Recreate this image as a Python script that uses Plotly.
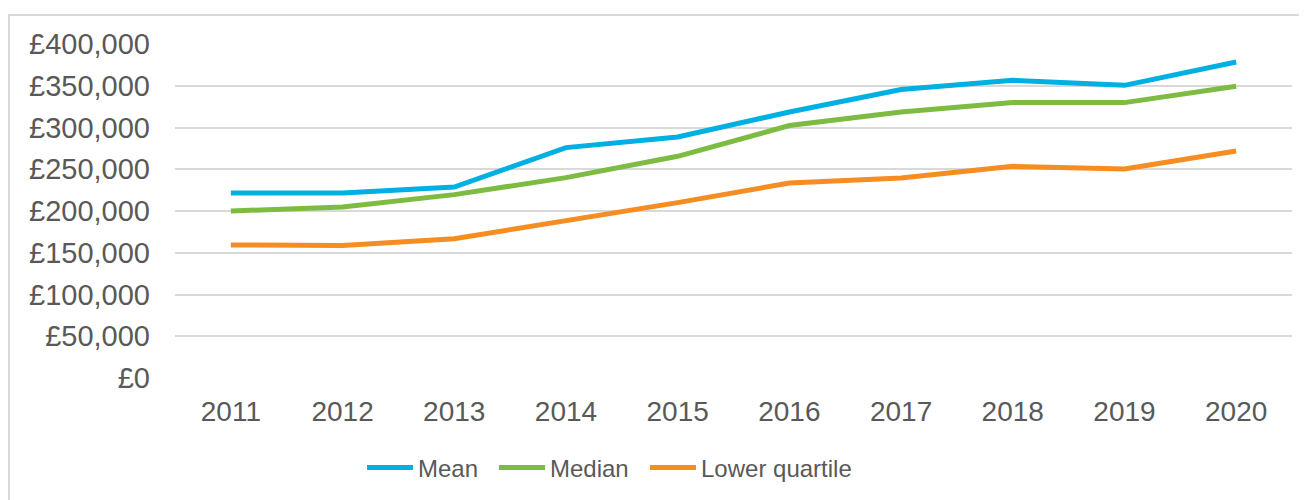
import plotly.graph_objects as go

years = ["2011", "2012", "2013", "2014", "2015", "2016", "2017", "2018", "2019", "2020"]
mean = [221600, 221600, 228700, 275900, 288600, 318600, 345400, 356500, 350500, 378400]
median = [200000, 204800, 219600, 240000, 265500, 302300, 318600, 329800, 329800, 349300]
lower_quartile = [159300, 158600, 166900, 188000, 210000, 233500, 239500, 253500, 250300, 271900]

y_ticks = [0, 50000, 100000, 150000, 200000, 250000, 300000, 350000, 400000]
y_labels = ["£0", "£50,000", "£100,000", "£150,000", "£200,000", "£250,000", "£300,000", "£350,000", "£400,000"]

series = [
    ("Mean", mean, "#00B0E2", "legend", 367),
    ("Median", median, "#7DBB42", "legend2", 499),
    ("Lower quartile", lower_quartile, "#F58D22", "legend3", 650),
]

OFF = 8  # page body margin
W, H = 1307 - OFF, 500 - OFF
L, R, T, B = 175 - OFF, 15, 44 - OFF, 122

pw = W - L - R
ph = H - T - B

def px_x(sx):
    return (sx - OFF - L) / pw

def px_y(sy):
    return (H - B - (sy - OFF)) / ph

fig = go.Figure()
legends = {}
for name, vals, col, lg, lx in series:
    fig.add_trace(go.Scatter(x=years, y=vals, name=name, mode="lines",
                             line=dict(color=col, width=5), legend=lg))
    legends[lg] = dict(orientation="h", x=px_x(lx - 5), xanchor="left",
                       y=px_y(468), yanchor="middle",
                       font=dict(size=24, color="#595959"),
                       itemwidth=46, bgcolor="rgba(0,0,0,0)")

fig.add_shape(type="rect", xref="paper", yref="paper",
              x0=px_x(9), x1=px_x(1330),
              y0=px_y(520), y1=px_y(15),
              line=dict(color="#D9D9D9", width=2), layer="below")

fig.update_layout(
    width=W, height=H,
    margin=dict(l=L, r=R, t=T, b=B, autoexpand=False),
    paper_bgcolor="white", plot_bgcolor="white",
    font=dict(family="Liberation Sans, Arial, sans-serif", color="#595959", size=29),
    showlegend=True,
    xaxis=dict(type="category", showgrid=False, showline=False, zeroline=False,
               ticks="", tickfont=dict(size=28), range=[-0.5, 9.5],
               automargin=False, ticklabelstandoff=14),
    yaxis=dict(range=[0, 400000], tickvals=y_ticks, ticktext=y_labels,
               showgrid=True, gridcolor="#D9D9D9", gridwidth=2, zeroline=False,
               showline=False, ticks="", tickfont=dict(size=29),
               ticklabelstandoff=24, automargin=False),
    **legends,
)

fig.write_html("out.html")
